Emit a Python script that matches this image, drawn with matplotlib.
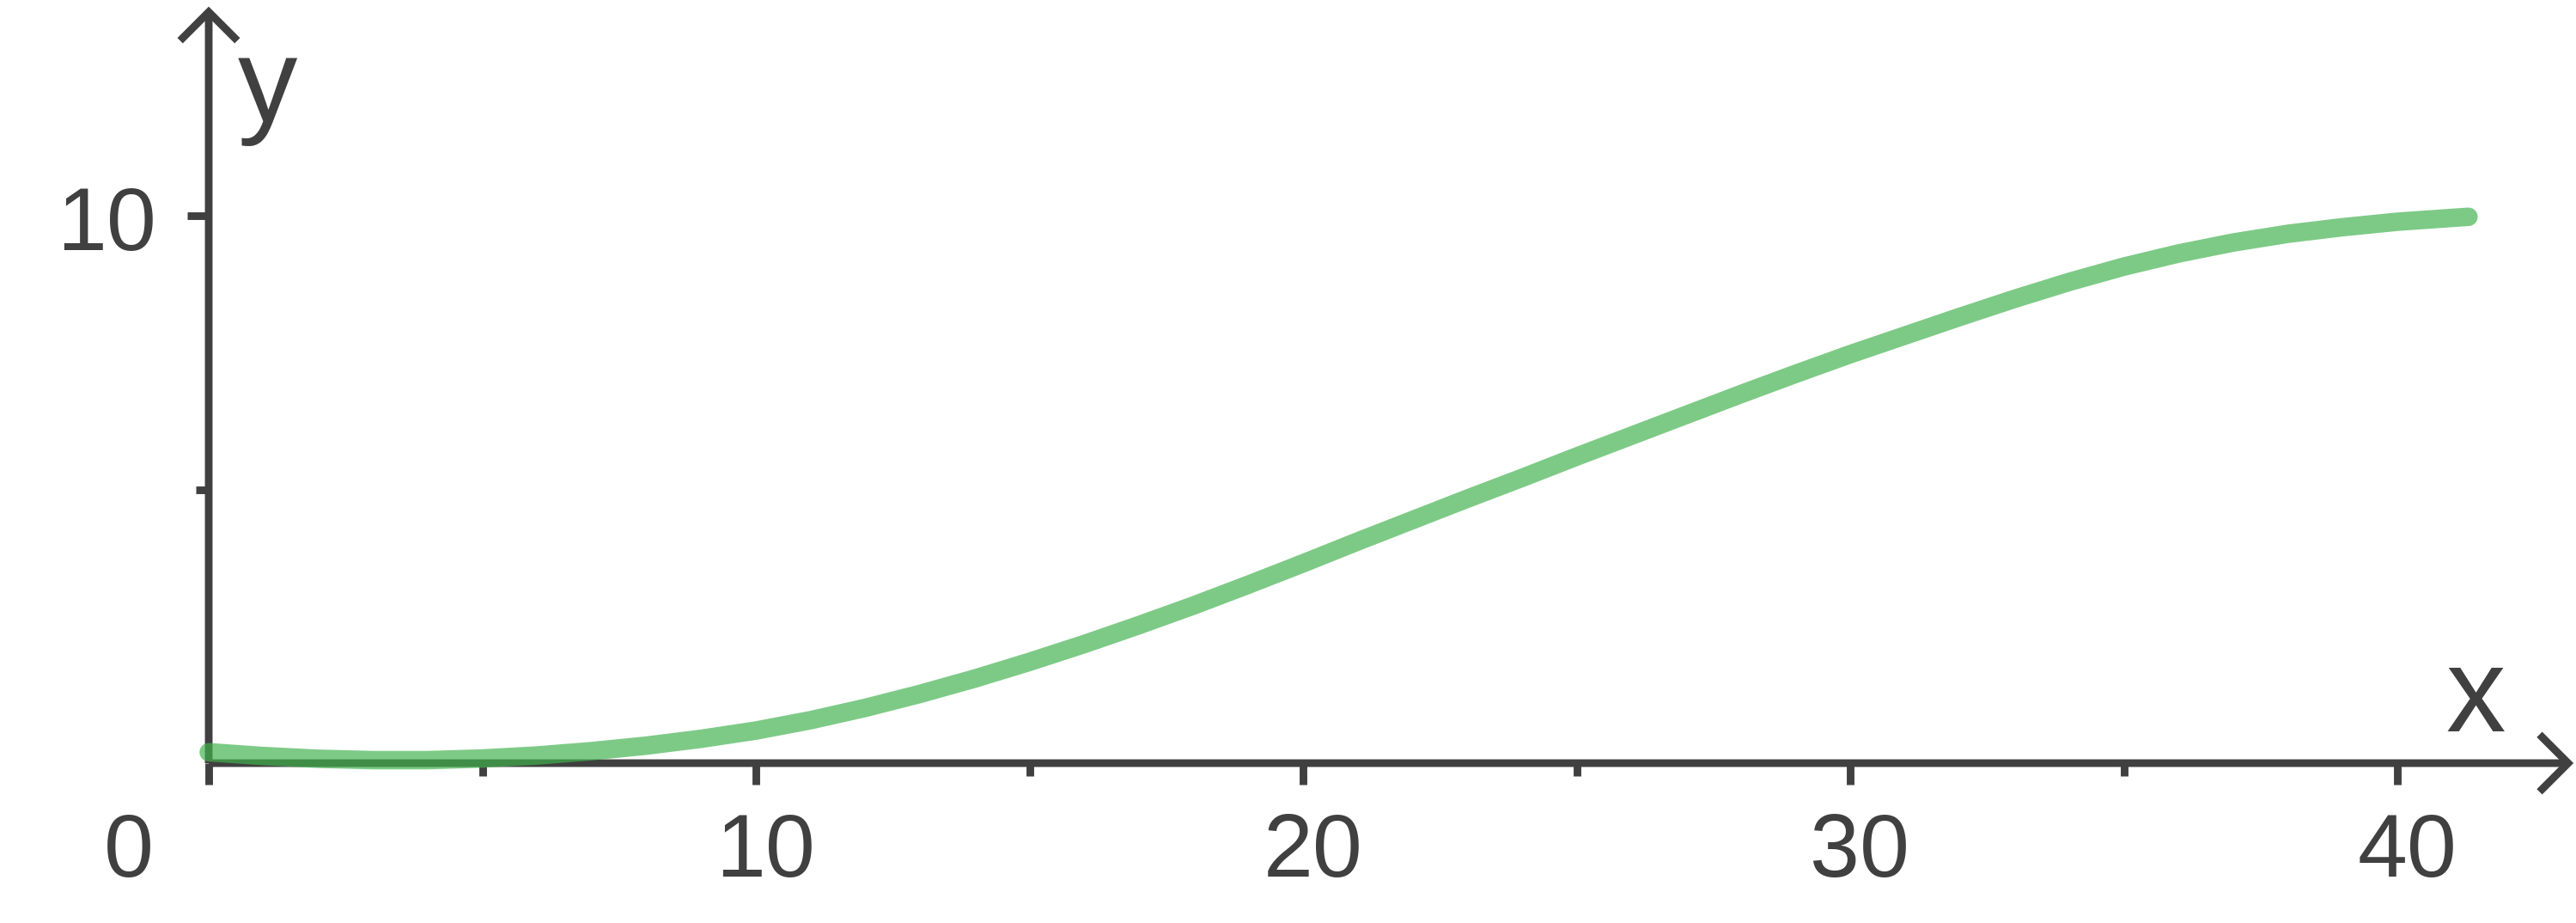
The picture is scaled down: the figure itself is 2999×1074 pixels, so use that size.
import numpy as np
import matplotlib
matplotlib.use("Agg")
import matplotlib.pyplot as plt

# values
curve_x = [0, 1, 2, 3, 4, 5, 6, 7, 8, 9, 10, 11, 12, 13, 14, 15, 16, 17,
           18, 19, 20, 21, 22, 23, 24, 25, 26, 27, 28, 29, 30, 31, 32, 33,
           34, 35, 36, 37, 38, 39, 40, 41, 41.3]
curve_y = [0.20, 0.13, 0.08, 0.055, 0.055, 0.085, 0.14, 0.22, 0.32, 0.445,
           0.595, 0.785, 1.01, 1.265, 1.545, 1.85, 2.175, 2.52, 2.88, 3.26,
           3.65, 4.05, 4.44, 4.83, 5.21, 5.60, 5.98, 6.36, 6.74, 7.11, 7.47,
           7.81, 8.15, 8.48, 8.79, 9.07, 9.31, 9.51, 9.67, 9.79, 9.89, 9.96,
           9.98]

x_major = [0, 10, 20, 30, 40]
x_minor = [5, 15, 25, 35]
y_major = [10]
y_minor = [5]
x_labels = ["10", "20", "30", "40"]   # "0" sits at the origin corner
y_labels = ["10"]

x_end = 43.22    # arrow tips
y_end = 13.82

axis_col = "#404040"
line_col = "#40b24d"
font = ["Liberation Sans", "DejaVu Sans"]

W, H, DPI = 2999, 1074, 100
ppu = 63.7          # pixels per data unit (both axes)
ox, oy = 243, 888   # origin in pixels from top-left

fig = plt.figure(figsize=(W / DPI, H / DPI), dpi=DPI)
ax = fig.add_axes([0, 0, 1, 1])
ax.set_xlim(-ox / ppu, (W - ox) / ppu)
ax.set_ylim(-(H - oy) / ppu, oy / ppu)

for s in ["top", "right", "left", "bottom"]:
    ax.spines[s].set_visible(False)
ax.spines["left"].set_position(("data", 0))
ax.spines["bottom"].set_position(("data", 0))

lw_axis = 6.4
ax.set_xticks(x_major)
ax.set_xticks(x_minor, minor=True)
ax.set_yticks(y_major)
ax.set_yticks(y_minor, minor=True)
ax.tick_params(which="major", direction="out", length=18, width=lw_axis,
               color=axis_col, labelbottom=False, labelleft=False)
ax.tick_params(which="minor", direction="out", length=11, width=lw_axis,
               color=axis_col)

# axis lines with open arrow heads
arrow = dict(arrowstyle="->,head_length=24,head_width=24", lw=lw_axis,
             color=axis_col, shrinkA=0, shrinkB=0, mutation_scale=1,
             capstyle="butt", joinstyle="miter")
ax.annotate("", xy=(x_end, 0), xytext=(0, 0), arrowprops=arrow)
ax.annotate("", xy=(0, y_end), xytext=(0, 0), arrowprops=arrow)

ax.plot(curve_x, curve_y, color=line_col, alpha=0.68, lw=15.5,
        solid_capstyle="round", solid_joinstyle="round", zorder=5)

tick_fs = 75
for v, lab in zip(x_major[1:], x_labels):
    ax.text(v + 0.18, -2.07, lab, ha="center", va="baseline",
            fontsize=tick_fs, color=axis_col, family=font)
ax.text(-1.0, -2.07, "0", ha="right", va="baseline",
        fontsize=tick_fs, color=axis_col, family=font)
for v, lab in zip(y_major, y_labels):
    ax.text(-0.96, v - 0.63, lab, ha="right", va="baseline",
            fontsize=tick_fs, color=axis_col, family=font)

ax.text(41.43, 0.58, "x", ha="center", va="baseline", fontsize=100,
        color=axis_col, family=font)
ax.text(1.08, 11.72, "y", ha="center", va="baseline", fontsize=100,
        color=axis_col, family=font)

fig.savefig("out.png", dpi=DPI, facecolor="white")
